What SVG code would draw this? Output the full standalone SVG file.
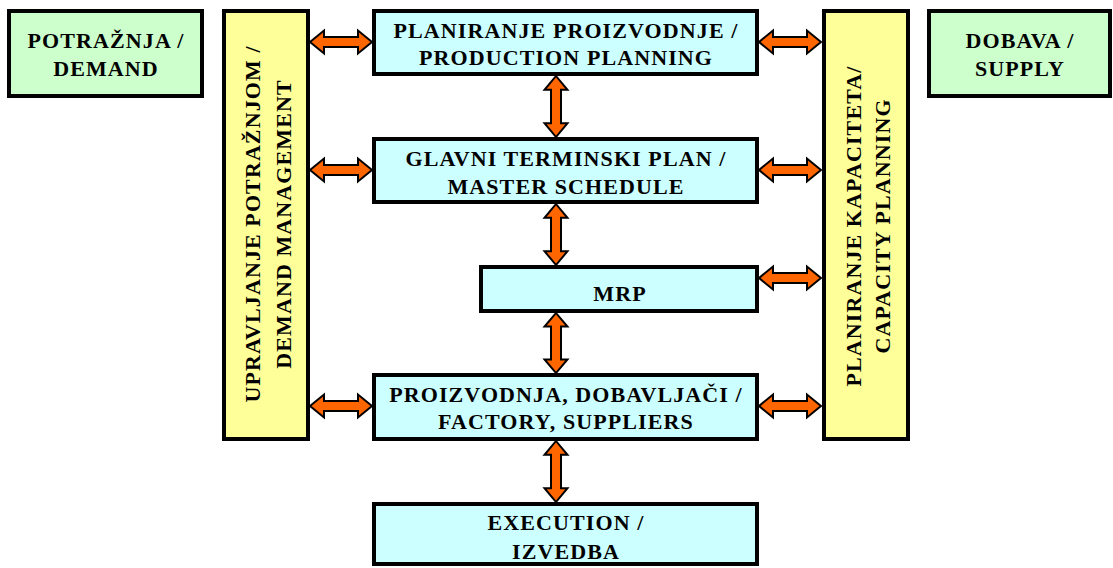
<svg xmlns="http://www.w3.org/2000/svg" width="1113" height="568" viewBox="0 0 1113 568">
<style>
.box{stroke:#000;stroke-width:4}
.cyan{fill:#CCFFFF}
.yel{fill:#FFFF99}
.grn{fill:#CCFFCC}
text{font-family:'Liberation Serif','DejaVu Serif',serif;font-weight:700;font-size:22px;letter-spacing:1.1px;fill:#000;text-anchor:middle}
.arr{fill:#FF6600;stroke:#000;stroke-width:2;stroke-linejoin:miter}
</style>
<defs>
<path id="dbl" class="arr" d="M0,0 L14,-11.5 L14,-5 L48,-5 L48,-11.5 L62,0 L48,11.5 L48,5 L14,5 L14,11.5 Z"/>
</defs>
<rect width="1113" height="568" fill="#fff"/>
<g id="connectors">
<use href="#dbl" transform="translate(310,42)"/>
<use href="#dbl" transform="translate(310,170)"/>
<use href="#dbl" transform="translate(310,406)"/>
<use href="#dbl" transform="translate(759,42)"/>
<use href="#dbl" transform="translate(759,170)"/>
<use href="#dbl" transform="translate(759,278)"/>
<use href="#dbl" transform="translate(759,406)"/>
<use href="#dbl" transform="translate(556,76) rotate(90) scale(0.984,1)"/>
<use href="#dbl" transform="translate(556,204) rotate(90) scale(0.984,1)"/>
<use href="#dbl" transform="translate(556,313) rotate(90) scale(0.968,1)"/>
<use href="#dbl" transform="translate(556,441) rotate(90) scale(0.984,1)"/>
</g>
<g id="demand">
<rect class="box grn" x="9" y="11" width="193" height="85"/>
<text x="106" y="48">POTRAŽNJA /</text>
<text x="106" y="76">DEMAND</text>
</g>
<g id="supply">
<rect class="box grn" x="929" y="11" width="181" height="85"/>
<text x="1020" y="48">DOBAVA /</text>
<text x="1020" y="76">SUPPLY</text>
</g>
<g id="demand-management">
<rect class="box yel" x="224" y="11" width="84" height="428"/>
<text transform="translate(260,224) rotate(-90)">UPRAVLJANJE POTRAŽNJOM /</text>
<text transform="translate(291,224) rotate(-90)">DEMAND MANAGEMENT</text>
</g>
<g id="capacity-planning">
<rect class="box yel" x="824" y="11" width="84" height="428"/>
<text transform="translate(861,226) rotate(-90)">PLANIRANJE KAPACITETA/</text>
<text transform="translate(890,226) rotate(-90)">CAPACITY PLANNING</text>
</g>
<g id="production-planning">
<rect class="box cyan" x="374" y="11" width="383" height="63"/>
<text x="566" y="38">PLANIRANJE PROIZVODNJE /</text>
<text x="566" y="65">PRODUCTION PLANNING</text>
</g>
<g id="master-schedule">
<rect class="box cyan" x="374" y="139" width="383" height="63"/>
<text x="566" y="166">GLAVNI TERMINSKI PLAN /</text>
<text x="566" y="194">MASTER SCHEDULE</text>
</g>
<g id="mrp">
<rect class="box cyan" x="481" y="267" width="276" height="44"/>
<text x="620" y="301">MRP</text>
</g>
<g id="factory">
<rect class="box cyan" x="374" y="375" width="383" height="64"/>
<text x="566" y="402">PROIZVODNJA, DOBAVLJAČI /</text>
<text x="566" y="429">FACTORY, SUPPLIERS</text>
</g>
<g id="execution">
<rect class="box cyan" x="374" y="504" width="383" height="60"/>
<text x="566" y="530">EXECUTION /</text>
<text x="566" y="559">IZVEDBA</text>
</g>
</svg>
